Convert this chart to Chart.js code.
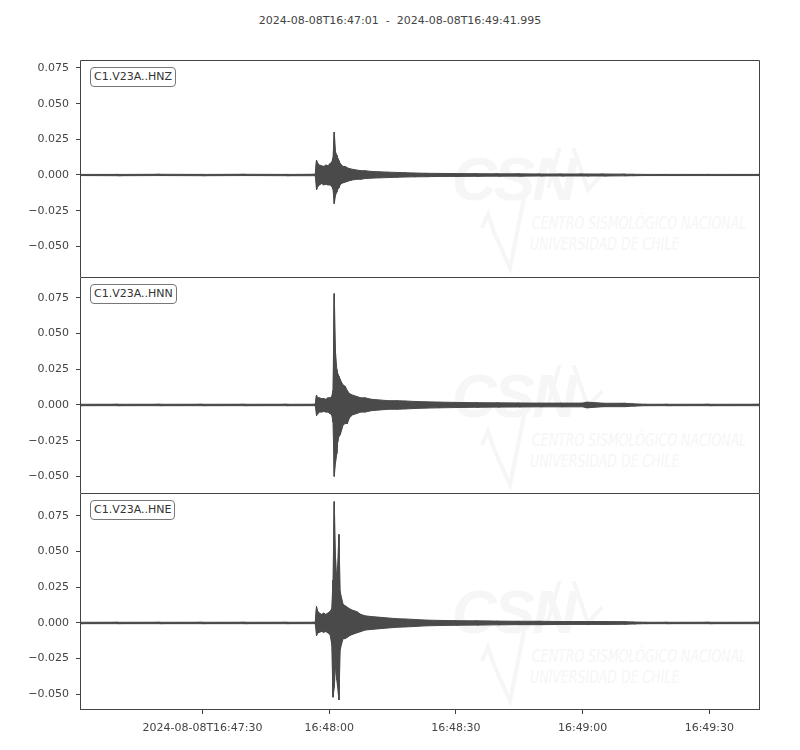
<!DOCTYPE html>
<html>
<head>
<meta charset="utf-8">
<script src="https://cdn.jsdelivr.net/npm/chart.js@4/dist/chart.umd.min.js"></script>
<style>
  body { margin: 0; background: #fff; font-family: "DejaVu Sans", sans-serif; }
  #page { position: relative; width: 800px; height: 750px; overflow: hidden; }
  #title { position: absolute; top: 14px; left: 0; width: 800px; text-align: center; font-size: 11px; color: #444; white-space: pre; }
  canvas { position: absolute; left: 0; z-index: 1; }
  .tag { position: absolute; left: 90px; height: 18px; line-height: 18px; padding: 0 3px; border: 1px solid #777; border-radius: 4px; font-size: 11px; color: #333; background: #fff; z-index: 2; }
  .mark { position: absolute; z-index: 0; color: #f6f6f6; font-family: "DejaVu Sans Condensed", sans-serif; font-style: italic; white-space: nowrap; }
  .mark .big { position: absolute; left: 452px; top: 0; font-size: 62px; font-weight: bold; font-family: "Liberation Sans", sans-serif; line-height: 62px; letter-spacing: -3px; }
  .mark .l1, .mark .l2 { position: absolute; font-size: 17px; line-height: 18px; transform-origin: 0 0; transform: scaleX(0.82); }
  .mark .l1 { left: 532px; top: 66px; }
  .mark .l2 { left: 530px; top: 87px; }
  .mark svg { position: absolute; left: 0; top: 0; }
</style>
</head>
<body>
<div id="page">
  <div id="title">2024-08-08T16:47:01  -  2024-08-08T16:49:41.995</div>
  <div id="marks"></div>
  <canvas id="p0" width="800" height="217" style="top:60px"></canvas>
  <canvas id="p1" width="800" height="216" style="top:277px"></canvas>
  <canvas id="p2" width="800" height="257" style="top:493px"></canvas>
</div>
<script>
// seconds after 16:47:00 (envelope bins)
const times = [1, 10, 20, 30, 40, 50, 56.7,
  57.0, 57.3, 57.7, 58.2, 58.7, 59.2, 59.7, 60.2, 60.6,
  60.9, 61.2, 61.5, 61.8, 62.0, 62.3, 62.6, 62.9, 63.3, 63.8, 64.3, 64.8,
  65.5, 66.5, 67.5, 68.5, 70, 72, 74, 76, 78, 80, 83, 86, 90, 95, 100, 105, 110,
  115, 120, 121, 125, 130, 132, 135, 140, 150, 161.995];

const hnzUpper = [0.0004, 0.0004, 0.0005, 0.0004, 0.0005, 0.0004, 0.0005,
  0.0105, 0.008, 0.007, 0.0065, 0.006, 0.007, 0.0065, 0.008, 0.009,
  0.012, 0.030, 0.016, 0.014, 0.012, 0.010, 0.008, 0.007, 0.006, 0.006, 0.005, 0.0045,
  0.004, 0.0035, 0.003, 0.003, 0.0025, 0.0022, 0.002, 0.0018, 0.0016, 0.0014, 0.0012, 0.0011, 0.001, 0.0009, 0.0008, 0.0008, 0.0007,
  0.0007, 0.0007, 0.0007, 0.0007, 0.0006, 0.0005, 0.0004, 0.0004, 0.0004, 0.0004];
const hnzLower = [-0.0004, -0.0005, -0.0004, -0.0005, -0.0004, -0.0005, -0.0005,
  -0.0105, -0.008, -0.007, -0.006, -0.007, -0.0065, -0.007, -0.007, -0.008,
  -0.010, -0.020, -0.014, -0.012, -0.010, -0.009, -0.007, -0.006, -0.0055, -0.005, -0.0045, -0.004,
  -0.0035, -0.003, -0.003, -0.0025, -0.0022, -0.002, -0.0018, -0.0016, -0.0014, -0.0013, -0.0012, -0.001, -0.001, -0.0009, -0.0008, -0.0008, -0.0007,
  -0.0007, -0.0007, -0.0007, -0.0007, -0.0006, -0.0005, -0.0004, -0.0004, -0.0004, -0.0004];

const hnnUpper = [0.0005, 0.0005, 0.0005, 0.0005, 0.0005, 0.0005, 0.0005,
  0.007, 0.005, 0.005, 0.0045, 0.0045, 0.004, 0.005, 0.005, 0.006,
  0.010, 0.078, 0.036, 0.025, 0.022, 0.020, 0.018, 0.016, 0.014, 0.013, 0.010, 0.008,
  0.007, 0.006, 0.005, 0.005, 0.004, 0.0035, 0.003, 0.003, 0.0028, 0.0025, 0.0022, 0.002, 0.0018, 0.0016, 0.0015, 0.0014, 0.0013,
  0.0013, 0.0013, 0.002, 0.0012, 0.0012, 0.0008, 0.0005, 0.0005, 0.0005, 0.0005];
const hnnLower = [-0.0005, -0.0005, -0.0005, -0.0005, -0.0005, -0.0005, -0.0005,
  -0.0075, -0.006, -0.005, -0.005, -0.0045, -0.005, -0.005, -0.006, -0.007,
  -0.012, -0.050, -0.040, -0.034, -0.026, -0.022, -0.021, -0.018, -0.014, -0.013, -0.013, -0.009,
  -0.007, -0.006, -0.005, -0.005, -0.004, -0.0035, -0.003, -0.003, -0.0028, -0.0025, -0.0022, -0.002, -0.0018, -0.0016, -0.0015, -0.0014, -0.0013,
  -0.0013, -0.0013, -0.002, -0.0012, -0.0012, -0.0008, -0.0005, -0.0005, -0.0005, -0.0005];

const hneUpper = [0.0005, 0.0005, 0.0005, 0.0005, 0.0005, 0.0005, 0.0005,
  0.0115, 0.008, 0.007, 0.006, 0.007, 0.006, 0.007, 0.008, 0.010,
  0.030, 0.085, 0.045, 0.030, 0.040, 0.062, 0.022, 0.018, 0.013, 0.012, 0.011, 0.010,
  0.009, 0.008, 0.006, 0.005, 0.0045, 0.004, 0.0035, 0.003, 0.0028, 0.0025, 0.002, 0.0018, 0.0016, 0.0015, 0.0013, 0.0012, 0.0012,
  0.001, 0.001, 0.001, 0.001, 0.0009, 0.0007, 0.0005, 0.0005, 0.0005, 0.0005];
const hneLower = [-0.0005, -0.0005, -0.0005, -0.0005, -0.0005, -0.0005, -0.0005,
  -0.009, -0.007, -0.0065, -0.006, -0.0065, -0.006, -0.007, -0.008, -0.015,
  -0.052, -0.045, -0.030, -0.040, -0.045, -0.054, -0.019, -0.015, -0.011, -0.011, -0.010, -0.009,
  -0.008, -0.007, -0.006, -0.005, -0.0045, -0.004, -0.0035, -0.003, -0.0028, -0.0025, -0.002, -0.0018, -0.0016, -0.0015, -0.0013, -0.0012, -0.0012,
  -0.001, -0.001, -0.001, -0.001, -0.0009, -0.0007, -0.0005, -0.0005, -0.0005, -0.0005];

const stationLabels = ['C1.V23A..HNZ', 'C1.V23A..HNN', 'C1.V23A..HNE'];
const yTicks = [-0.05, -0.025, 0, 0.025, 0.05, 0.075];
const yRanges = [[-0.0715, 0.0806], [-0.0617, 0.0897], [-0.061, 0.0911]];
const xTickSeconds = [30, 60, 90, 120, 150];
const xTickLabels = ['2024-08-08T16:47:30', '16:48:00', '16:48:30', '16:49:00', '16:49:30'];
const timeRange = [1, 161.995];

const traceColor = '#4a4a4a';
const axisColor = '#444';
const tickFont = { family: 'DejaVu Sans', size: 11 };

// zig-zag through each bin's max and min, so the trace reads as a dense waveform
function toPoints(upper, lower) {
  const pts = [];
  times.forEach((t, i) => {
    pts.push({ x: t, y: upper[i] });
    pts.push({ x: t, y: lower[i] });
  });
  return pts;
}

// draw the box round each panel (bottom edge only on the last one)
const framePlugin = {
  id: 'frame',
  afterDraw(chart, args, opts) {
    const { ctx, chartArea: a } = chart;
    ctx.save();
    ctx.strokeStyle = axisColor;
    ctx.lineWidth = 1;
    ctx.beginPath();
    ctx.moveTo(a.left + 0.5, a.bottom);
    ctx.lineTo(a.left + 0.5, a.top + 0.5);
    ctx.lineTo(a.right - 0.5, a.top + 0.5);
    ctx.lineTo(a.right - 0.5, a.bottom);
    if (opts.bottom) {
      ctx.moveTo(a.left, a.bottom - 0.5);
      ctx.lineTo(a.right, a.bottom - 0.5);
    }
    ctx.stroke();
    ctx.restore();
  }
};

function yLabel(v) {
  const s = Math.abs(v).toFixed(3);
  return v < -1e-9 ? '\u2212' + s : s;
}

function makePanel(id, upper, lower, range, showX) {
  const ctx = document.getElementById(id).getContext('2d');
  new Chart(ctx, {
    type: 'line',
    data: {
      datasets: [
        {
          // envelope top, filled down to the bottom one
          data: times.map((t, i) => ({ x: t, y: upper[i] })),
          borderColor: traceColor,
          backgroundColor: traceColor,
          borderWidth: 1,
          pointRadius: 0,
          fill: '+1',
        },
        {
          data: times.map((t, i) => ({ x: t, y: lower[i] })),
          borderColor: traceColor,
          borderWidth: 1,
          pointRadius: 0,
          fill: false,
        },
        {
          data: toPoints(upper, lower),
          borderColor: traceColor,
          borderWidth: 1,
          pointRadius: 0,
          fill: false,
        },
      ],
    },
    options: {
      responsive: false,
      animation: false,
      layout: { padding: { left: 0, right: 40, top: 0, bottom: 0 } },
      plugins: { legend: { display: false }, tooltip: { enabled: false }, frame: { bottom: showX } },
      scales: {
        x: {
          type: 'linear',
          min: timeRange[0],
          max: timeRange[1],
          display: showX,
          afterBuildTicks: s => { s.ticks = xTickSeconds.map(v => ({ value: v })); },
          afterFit: s => {
            if (!showX) return;
            s.height = 40; s.paddingLeft = 0; s.paddingRight = 0;
          },
          grid: { drawOnChartArea: false, drawTicks: true, tickLength: 4, color: axisColor },
          border: { display: false },
          ticks: {
            font: tickFont, color: axisColor, padding: 8, maxRotation: 0, autoSkip: false,
            callback: v => xTickLabels[xTickSeconds.indexOf(v)],
          },
        },
        y: {
          min: range[0],
          max: range[1],
          afterBuildTicks: s => { s.ticks = yTicks.map(v => ({ value: v })); },
          afterFit: s => { s.width = 80; s.paddingTop = 0; s.paddingBottom = 0; },
          grid: { drawOnChartArea: false, drawTicks: true, tickLength: 4, color: axisColor },
          border: { display: false },
          ticks: { font: tickFont, color: axisColor, padding: 7, callback: yLabel },
        },
      },
    },
    plugins: [framePlugin],
  });
}

// faint agency watermark and station tags
const panelTops = [60, 277, 493];
const marks = document.getElementById('marks');
panelTops.forEach((top, i) => {
  const m = document.createElement('div');
  m.className = 'mark';
  m.style.left = '0px';
  m.style.top = (top + 88) + 'px';
  m.innerHTML = '<svg width="800" height="140"><polyline points="482,80 488,66 494,84 510,120 526,40" fill="none" stroke="#f6f6f6" stroke-width="4"/>' +
    '<polyline points="548,40 566,-22 588,42 602,26" fill="none" stroke="#f6f6f6" stroke-width="4"/></svg>' +
    '<span class="big">CSN</span><span class="l1">CENTRO SISMOLÓGICO NACIONAL</span><span class="l2">UNIVERSIDAD DE CHILE</span>';
  marks.appendChild(m);

  const tag = document.createElement('div');
  tag.className = 'tag';
  tag.style.top = (top + 7) + 'px';
  tag.textContent = stationLabels[i];
  document.getElementById('page').appendChild(tag);
});

makePanel('p0', hnzUpper, hnzLower, yRanges[0], false);
makePanel('p1', hnnUpper, hnnLower, yRanges[1], false);
makePanel('p2', hneUpper, hneLower, yRanges[2], true);
</script>
</body>
</html>
